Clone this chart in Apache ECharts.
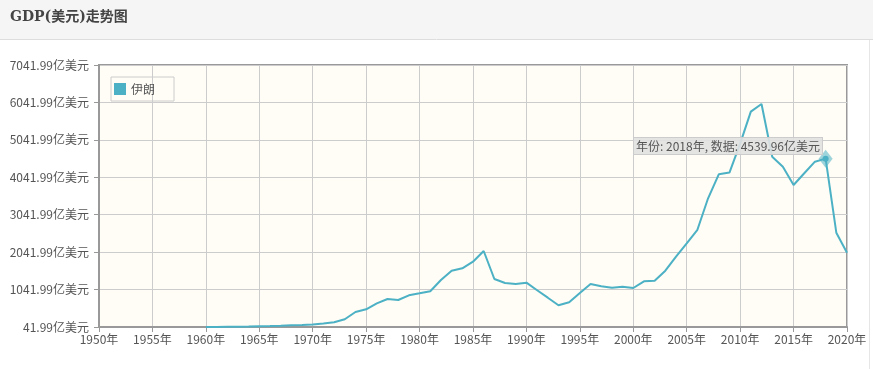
<!DOCTYPE html>
<html><head><meta charset="utf-8">
<script src="https://cdn.jsdelivr.net/npm/echarts@6/dist/echarts.min.js"></script>
<style>
html,body{margin:0;padding:0;background:#fff;}
#c{width:873px;height:369px;}
</style></head>
<body><div id="c"></div>
<script>
const years = [1960,1961,1962,1963,1964,1965,1966,1967,1968,1969,1970,1971,1972,1973,1974,1975,1976,1977,1978,1979,1980,1981,1982,1983,1984,1985,1986,1987,1988,1989,1990,1991,1992,1993,1994,1995,1996,1997,1998,1999,2000,2001,2002,2003,2004,2005,2006,2007,2008,2009,2010,2011,2012,2013,2014,2015,2016,2017,2018,2019,2020];
const gdp = [41.99,44.1,46.7,49.2,54.4,62.1,67.5,75.4,85.9,96.3,109.8,133.7,170,250,443,515,675,790,763,889,942,996,1298,1546,1610,1787,2073,1324,1218,1191,1226,1025,825,622,702,950,1191,1130,1092,1119,1084,1263,1279,1546,1920,2278,2640,3481,4122,4167,4940,5795,6001,4592,4325,3836,4149,4459,4539.96,2562,2027];
const seriesName = '伊朗';
const yTicks = [41.99,1041.99,2041.99,3041.99,4041.99,5041.99,6041.99,7041.99];
const title = 'GDP(美元)走势图';
const tipYear = 2018;

const chart = echarts.init(document.getElementById('c'));
const fam = '"Noto Sans CJK SC", "Noto Sans", sans-serif';
const tipIdx = years.indexOf(tipYear);
chart.setOption({
  animation: false,
  textStyle: {fontFamily: fam},
  graphic: [
    {type:'rect', left:0, top:0, shape:{width:873, height:39}, style:{fill:'#f5f5f5'}, silent:true, z:-10},
    {type:'line', shape:{x1:0,y1:39.5,x2:873,y2:39.5}, style:{stroke:'#ddd', lineWidth:1}, silent:true},
    {type:'line', shape:{x1:869.5,y1:40,x2:869.5,y2:369}, style:{stroke:'#e6e6e6', lineWidth:1}, silent:true},
    {type:'text', left:10, top:10, style:{text:title, font:'bold 14px "DejaVu Serif", "Noto Sans CJK SC", serif', fill:'#444'}, silent:true}
  ],
  grid: {left:99, right:26, top:65, bottom:42, show:true, backgroundColor:'#fffdf5', borderColor:'#999', borderWidth:2},
  legend: {
    data:[seriesName], left:111, top:77, orient:'vertical',
    borderColor:'#ccc', borderWidth:1, padding:[6,19,6,3],
    itemWidth:12, itemHeight:12, itemGap:4, icon:'rect',
    textStyle:{color:'#555', fontSize:12, fontFamily:fam}
  },
  tooltip: {
    trigger:'axis', triggerOn:'none', alwaysShowContent:true, transitionDuration:0,
    axisPointer:{type:'none'},
    backgroundColor:'rgba(225,225,225,0.9)', borderColor:'#ccc', borderWidth:1, borderRadius:0,
    padding:[0,2], extraCssText:'box-shadow:none;line-height:16px;',
    textStyle:{color:'#555', fontSize:12, fontFamily:fam},
    position: function(pt, params, dom, rect, size){ return [pt[0]-size.contentSize[0]-3, pt[1]-22]; },
    formatter: function(ps){ const p = Array.isArray(ps) ? ps[0] : ps; return '年份: ' + p.value[0] + '年, 数据: ' + p.value[1] + '亿美元'; }
  },
  xAxis: {
    type:'value', min:1950, max:2020, interval:5,
    axisLine:{lineStyle:{color:'#999', width:2}},
    axisTick:{show:true, length:5, lineStyle:{color:'#999'}},
    axisLabel:{color:'#555', fontSize:12, formatter:function(v){ return String(v) + '年'; }, margin:6},
    splitLine:{show:true, lineStyle:{color:'#ccc', width:1}}
  },
  yAxis: {
    type:'value', min:yTicks[0], max:yTicks[yTicks.length-1], interval:1000,
    axisLine:{show:true, lineStyle:{color:'#999', width:2}},
    axisTick:{show:true, length:5, lineStyle:{color:'#999'}},
    axisLabel:{color:'#555', fontSize:12, margin:10, formatter:function(v){ return v.toFixed(2) + '亿美元'; }},
    splitLine:{show:true, lineStyle:{color:'#ccc', width:1}}
  },
  series: [{
    name: seriesName, type:'line', showSymbol:false, symbol:'circle', symbolSize:1,
    data: years.map((y,i)=>[y, gdp[i]]),
    lineStyle:{color:'#4cb1c5', width:2},
    itemStyle:{color:'#4cb1c5'},
    emphasis:{disabled:true},
    markPoint:{
      silent:true, symbol:'diamond', symbolSize:[14,18],
      itemStyle:{color:'rgba(76,177,197,0.55)'},
      label:{show:false},
      data:[{coord:[years[tipIdx], gdp[tipIdx]]}]
    }
  }]
});
chart.dispatchAction({type:'showTip', seriesIndex:0, dataIndex:tipIdx});
</script></body></html>
